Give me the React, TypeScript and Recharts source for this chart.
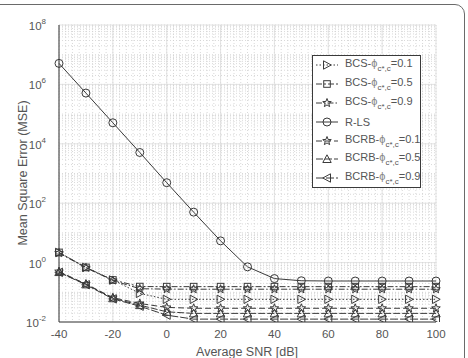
import React from 'react'
import { LineChart, Line, XAxis, YAxis, CartesianGrid } from 'recharts'

const snr = [-40, -30, -20, -10, 0, 10, 20, 30, 40, 50, 60, 70, 80, 90, 100]
const rls = [5.1e6, 5.1e5, 5.1e4, 5.1e3, 490, 50, 5.4, 0.72, 0.29, 0.245, 0.24, 0.24, 0.24, 0.24, 0.24]
const bcs01 = [2.2, 0.69, 0.26, 0.092, 0.058, 0.058, 0.058, 0.058, 0.058, 0.058, 0.058, 0.058, 0.058, 0.058, 0.058]
const bcs05 = [2.2, 0.69, 0.26, 0.156, 0.155, 0.155, 0.155, 0.155, 0.155, 0.155, 0.155, 0.155, 0.155, 0.155, 0.155]
const bcs09 = [2.1, 0.67, 0.25, 0.132, 0.128, 0.127, 0.127, 0.127, 0.127, 0.127, 0.127, 0.127, 0.127, 0.127, 0.127]
const bcrb01 = [0.5, 0.19, 0.066, 0.042, 0.031, 0.029, 0.029, 0.029, 0.029, 0.029, 0.029, 0.029, 0.029, 0.029, 0.029]
const bcrb05 = [0.48, 0.185, 0.063, 0.037, 0.022, 0.0195, 0.0195, 0.0195, 0.0195, 0.0195, 0.0195, 0.0195, 0.0195, 0.0195, 0.0195]
const bcrb09 = [0.47, 0.18, 0.06, 0.034, 0.017, 0.0125, 0.0125, 0.0125, 0.0125, 0.0125, 0.0125, 0.0125, 0.0125, 0.0125, 0.0125]

const xTicks = [-40, -20, 0, 20, 40, 60, 80, 100]
const yTicks = [1e-2, 1, 1e2, 1e4, 1e6, 1e8]

const data = snr.map((s, i) => ({
  snr: s,
  bcs01: bcs01[i],
  bcs05: bcs05[i],
  bcs09: bcs09[i],
  rls: rls[i],
  bcrb01: bcrb01[i],
  bcrb05: bcrb05[i],
  bcrb09: bcrb09[i],
}))

// minor grid values (MATLAB "grid minor" look)
const yMinor: number[] = []
for (let k = -2; k < 8; k++) {
  for (let m = 2; m <= 10; m++) yMinor.push(m * Math.pow(10, k))
}
const xMinor: number[] = []
for (let v = -40; v <= 100; v += 2.5) xMinor.push(v)

const INK = '#3a3a3a'
const FONT = '"Liberation Sans", Arial, sans-serif'

type Shape = 'triRight' | 'square' | 'star' | 'circle' | 'triUp' | 'triLeft'

function Marker({ shape, cx, cy }: { shape: Shape; cx: number; cy: number }) {
  const p = { fill: 'none', stroke: INK, strokeWidth: 1 }
  const r = 4
  if (shape === 'circle') return <circle cx={cx} cy={cy} r={r} {...p} />
  if (shape === 'square') return <rect x={cx - 3.3} y={cy - 3.3} width={6.6} height={6.6} {...p} />
  if (shape === 'triRight')
    return <polygon points={`${cx - 3.5},${cy - 4.2} ${cx + 4.2},${cy} ${cx - 3.5},${cy + 4.2}`} {...p} />
  if (shape === 'triLeft')
    return <polygon points={`${cx + 3.5},${cy - 4.2} ${cx - 4.2},${cy} ${cx + 3.5},${cy + 4.2}`} {...p} />
  if (shape === 'triUp')
    return <polygon points={`${cx - 4.2},${cy + 3.5} ${cx},${cy - 4.2} ${cx + 4.2},${cy + 3.5}`} {...p} />
  const pts: string[] = []
  for (let i = 0; i < 10; i++) {
    const a = -Math.PI / 2 + (i * Math.PI) / 5
    const rr = i % 2 === 0 ? 4.5 : 1.9
    pts.push(`${cx + rr * Math.cos(a)},${cy + rr * Math.sin(a)}`)
  }
  return <polygon points={pts.join(' ')} {...p} />
}

const series: { key: string; shape: Shape; dash?: string; label: string; val?: string }[] = [
  { key: 'bcs01', shape: 'triRight', dash: '1.5 2', label: 'BCS-', val: '=0.1' },
  { key: 'bcs05', shape: 'square', dash: '6 2 2 2', label: 'BCS-', val: '=0.5' },
  { key: 'bcs09', shape: 'star', dash: '6 2 1.5 2', label: 'BCS-', val: '=0.9' },
  { key: 'rls', shape: 'circle', label: 'R-LS' },
  { key: 'bcrb01', shape: 'star', dash: '6 3', label: 'BCRB-', val: '=0.1' },
  { key: 'bcrb05', shape: 'triUp', dash: '7 2', label: 'BCRB-', val: '=0.5' },
  { key: 'bcrb09', shape: 'triLeft', dash: '8 2', label: 'BCRB-', val: '=0.9' },
]

function YTick(props: any) {
  const { x, y, payload } = props
  const e = Math.round(Math.log10(payload.value))
  return (
    <text x={x - 5} y={y + 5} textAnchor="end" fontSize={11.5} fill="#555" fontFamily={FONT}>
      10
      <tspan dy={-6} fontSize={8}>{e}</tspan>
    </text>
  )
}

function XTick(props: any) {
  const { x, payload } = props
  return (
    <text x={x} y={338} textAnchor="middle" fontSize={11.5} fill="#555" fontFamily={FONT}>
      {payload.value}
    </text>
  )
}

function Legend() {
  return (
    <div
      style={{
        position: 'absolute',
        left: 312,
        top: 55,
        width: 109,
        height: 133,
        border: `1px solid ${INK}`,
        background: '#fff',
        fontFamily: FONT,
        fontSize: 11,
        color: '#555',
        boxSizing: 'border-box',
      }}
    >
      {series.map((s) => (
        <div key={s.key} style={{ height: 18.8, display: 'flex', alignItems: 'center' }}>
          <svg width={28} height={14} style={{ marginLeft: 2, flex: 'none' }}>
            <line x1={1} y1={7} x2={23} y2={7} stroke={INK} strokeWidth={1} strokeDasharray={s.dash} />
            <Marker shape={s.shape} cx={12} cy={7} />
          </svg>
          <span style={{ marginLeft: 2, whiteSpace: 'nowrap' }}>
            {s.label}
            {s.val && (
              <>
                <span style={{ color: '#888' }}>ϕ</span>
                <sub style={{ fontSize: 8, verticalAlign: -4 }}>c*,c</sub>
                {s.val}
              </>
            )}
          </span>
        </div>
      ))}
    </div>
  )
}

export default function App() {
  return (
    <div
      style={{
        position: 'absolute',
        left: 0,
        top: 0,
        width: 468,
        height: 358,
        background: '#fff',
        overflow: 'hidden',
      }}
    >
      <div
        style={{
          position: 'absolute',
          left: -12,
          top: 4,
          width: 477,
          height: 400,
          border: '1.5px solid #6a6a6a',
          borderRadius: 10,
          boxSizing: 'border-box',
        }}
      />
      <LineChart
        width={468}
        height={358}
        data={data}
        margin={{ top: 25, right: 32, bottom: 0, left: 0 }}
        style={{ position: 'absolute', left: 0, top: 0 }}
      >
        <CartesianGrid
          horizontalValues={yMinor}
          verticalValues={xMinor}
          stroke="#cfcfcf"
          strokeDasharray="1 2"
          strokeWidth={0.8}
        />
        <CartesianGrid horizontalValues={yTicks} verticalValues={xTicks} stroke="#dcdcdc" strokeWidth={0.8} />
        <XAxis
          dataKey="snr"
          type="number"
          domain={[-40, 100]}
          ticks={xTicks}
          height={36}
          tick={<XTick />}
          tickLine={false}
          stroke={INK}
          interval={0}
        />
        <XAxis xAxisId="top" dataKey="snr" type="number" domain={[-40, 100]} orientation="top" height={0} tick={false} tickLine={false} stroke={INK} />
        <YAxis
          scale="log"
          type="number"
          domain={[1e-2, 1e8]}
          ticks={yTicks}
          allowDataOverflow
          width={59}
          tick={<YTick />}
          tickLine={false}
          stroke={INK}
          interval={0}
        />
        <YAxis yAxisId="right" orientation="right" scale="log" type="number" domain={[1e-2, 1e8]} width={0} tick={false} tickLine={false} stroke={INK} />
        {series.map((s) => (
          <Line
            key={s.key}
            dataKey={s.key}
            stroke={INK}
            strokeWidth={1}
            strokeDasharray={s.dash}
            isAnimationActive={false}
            dot={(p: any) => <Marker key={`${s.key}-${p.index}`} shape={s.shape} cx={p.cx} cy={p.cy} />}
            activeDot={false}
          />
        ))}
        <text x={247} y={356} textAnchor="middle" fontSize={12.5} fill="#555" fontFamily={FONT}>
          Average SNR [dB]
        </text>
        <text
          x={27}
          y={173}
          textAnchor="middle"
          fontSize={12.5}
          fill="#555"
          fontFamily={FONT}
          transform="rotate(-90 27 173)"
        >
          Mean Square Error (MSE)
        </text>
      </LineChart>
      <Legend />
    </div>
  )
}
